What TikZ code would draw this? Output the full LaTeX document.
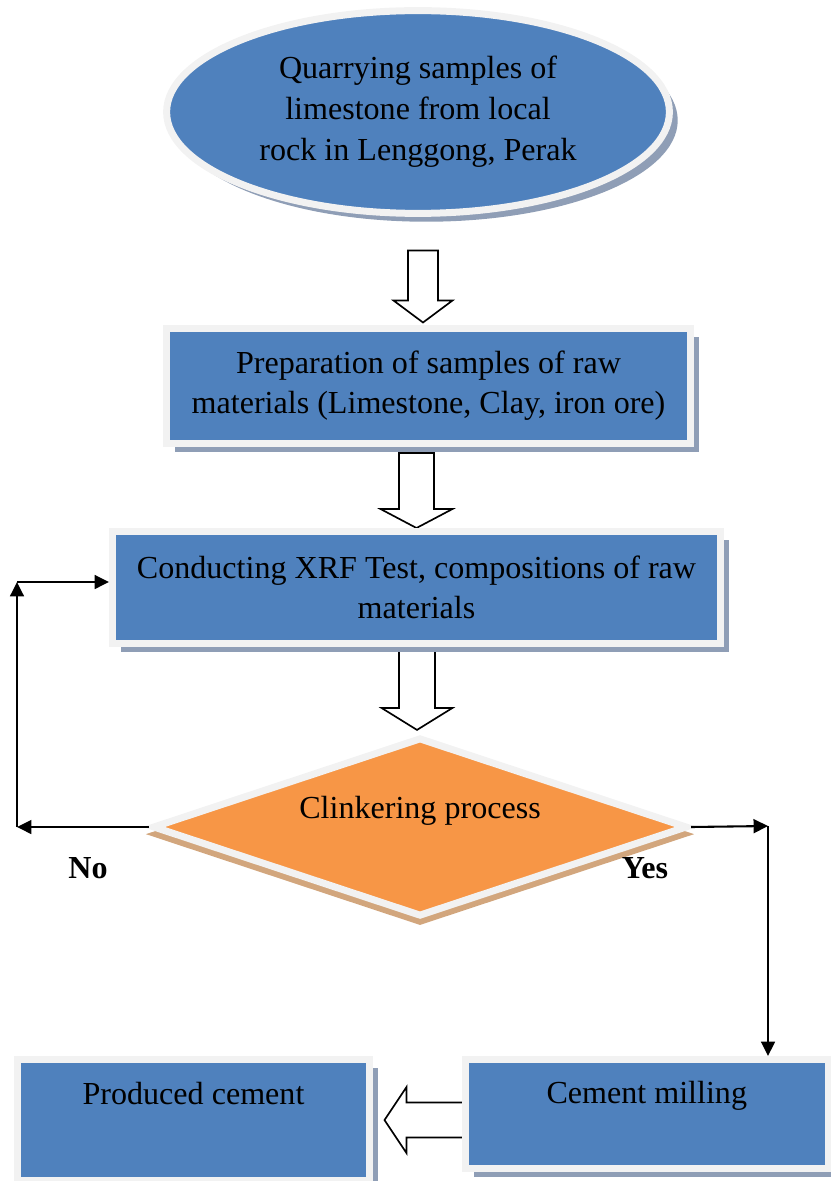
\documentclass[tikz,border=0pt]{standalone}
\usepackage{fontspec}
\setmainfont{Liberation Serif}
\usetikzlibrary{shapes.geometric,shadows,arrows.meta,backgrounds,calc}

\definecolor{boxblue}{RGB}{79,129,189}
\definecolor{boxedge}{RGB}{242,242,242}
\definecolor{boxshade}{RGB}{143,158,182}
\definecolor{clinkorange}{RGB}{247,150,70}
\definecolor{clinkshade}{RGB}{210,166,125}

\tikzset{
  procbox/.style={rectangle, fill=boxblue, draw=boxedge, line width=2.52pt,
    inner sep=0pt, align=center,
    drop shadow={shadow xshift=3pt, shadow yshift=-3pt, fill=boxshade, opacity=1}},
  decisionbox/.style={diamond, aspect=3, fill=clinkorange, draw=boxedge,
    line width=2.52pt, inner sep=0pt, align=center,
    drop shadow={shadow xshift=0pt, shadow yshift=-2.5pt, shadow scale=1.03,
      fill=clinkshade, opacity=1}},
  hollow/.style={draw=black, fill=white, line width=0.6pt, line join=miter},
  flow/.style={line width=0.75pt, -{Triangle[length=5.2pt,width=5pt]}},
  answer/.style={font=\fontsize{11.55}{14.4}\selectfont\bfseries, inner sep=0pt},
}

\begin{document}
\begin{tikzpicture}[x=0.36pt, y=-0.36pt, font=\fontsize{11.55}{14.4}\selectfont]
  \useasboundingbox (0,0) rectangle (831,1181);

  % steps
  \node[procbox, ellipse, minimum width=181pt, minimum height=73pt,
    font=\fontsize{11.55}{14.8}\selectfont] (quarry) at (418,112)
    {Quarrying samples of\\limestone from local\\rock in Lenggong, Perak};
  \node[procbox, minimum width=188.64pt, minimum height=41.4pt] (prep) at (428.5,386)
    {Preparation of samples of raw\\materials (Limestone, Clay, iron ore)};
  \node[procbox, minimum width=218.88pt, minimum height=40.32pt] (xrf) at (416.5,587.5)
    {Conducting XRF Test, compositions of raw\\materials};
  \node[decisionbox, minimum width=192.6pt, minimum height=64.5pt] (clinker) at (420,827)
    {Clinkering process\\\mbox{}};
  \node[procbox, minimum width=130.5pt, minimum height=39.24pt] (mill) at (646.75,1114)
    {Cement milling\\[1pt]\mbox{}};
  \node[procbox, minimum width=126.72pt, minimum height=43.56pt] (cement) at (193.5,1120)
    {Produced cement\\[5pt]\mbox{}};

  \node[answer] (nolabel) at (88,868) {No};
  \node[answer] (yeslabel) at (645,868) {Yes};

  % hollow block arrows, behind the boxes
  \begin{scope}[on background layer]
    \draw[hollow] ($(prep.north)+(-5.5,-2.5)$) -- ++(-29.5,-22) -- ++(14.5,0) -- ++(0,-50)
      -- ++(30,0) -- ++(0,50) -- ++(14.5,0) -- cycle;
    \draw[hollow] (xrf.north) -- ++(-36,-19) -- ++(18.5,0) -- ++(0,-56)
      -- ++(35,0) -- ++(0,56) -- ++(18.5,0) -- cycle;
    \draw[hollow] ($(clinker.north)+(-3,-4)$) -- ++(-35.5,-22) -- ++(17.5,0) -- ++(0,-68)
      -- ++(36,0) -- ++(0,68) -- ++(17.5,0) -- cycle;
    \draw[hollow] ($(cement.east)+(11.5,0)$) -- ++(22,-33) -- ++(0,15.5) -- ++(63,0)
      -- ++(0,35) -- ++(-63,0) -- ++(0,15.5) -- cycle;
  \end{scope}

  % decision branches
  \coordinate (noturn) at (17,827);
  \coordinate (noup) at (17,582);
  \coordinate (yesturn) at (768,826);
  \draw[flow] (clinker.west) -- (noturn);
  \draw[flow] (noturn) -- (noup);
  \draw[flow] (noup) -- (noup -| xrf.west);
  \draw[flow] (clinker.east) -- (yesturn);
  \draw[flow] (yesturn) -- (yesturn |- mill.north);
\end{tikzpicture}
\end{document}
